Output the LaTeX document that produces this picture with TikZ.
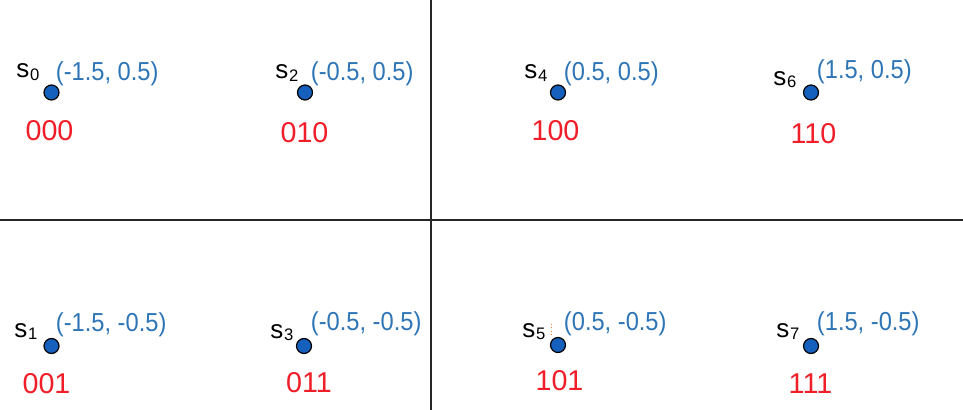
\documentclass[tikz,border=0pt]{standalone}
\usepackage{fontspec}
\setmainfont{Liberation Sans}
\usepackage{tikz}

\definecolor{coordblue}{RGB}{46,117,182}
\definecolor{dotblue}{RGB}{21,96,189}
\definecolor{bitred}{RGB}{240,30,40}
\definecolor{markorange}{RGB}{237,125,49}
\newcommand{\stname}[1]{s\kern0.6pt\raisebox{-2pt}{\fontsize{12.5}{13}\selectfont #1}}
\newcommand{\xy}[1]{\scalebox{0.91}[1]{#1}}

\begin{document}
\begin{tikzpicture}[x=0.75pt,y=-0.75pt,
        dot/.style={circle,draw=black,fill=dotblue,line width=0.9pt,minimum size=11.25pt,inner sep=0pt},
        coord/.style={coordblue,font=\fontsize{19.5}{22}\selectfont,anchor=base west,inner sep=0pt},
        bits/.style={bitred,font=\fontsize{21.5}{24}\selectfont,anchor=base,inner sep=0pt},
        sname/.style={font=\fontsize{19.5}{22}\selectfont,anchor=base west,inner sep=0pt},
        axis/.style={line width=1pt,black!85}]
        \useasboundingbox (0,0) rectangle (963,410);
        \draw[axis] (431,0) -- (431,410);
        \draw[axis] (0,220) -- (963,220);

        % upper half
        \node[dot] (s0) at (51.5,92.5) {};
        \node[sname] (n0) at (16,78) {\stname{0}};
        \node[coord] (c0) at (55.7,80.5) {\xy{(-1.5, 0.5)}};
        \node[bits] (b0) at (49.5,140) {000};

        \node[dot] (s2) at (305,92.5) {};
        \node[sname] (n2) at (275,79) {\stname{2}};
        \node[coord] (c2) at (310.7,80.5) {\xy{(-0.5, 0.5)}};
        \node[bits] (b2) at (304.5,142) {010};

        \node[dot] (s4) at (558,92.5) {};
        \node[sname] (n4) at (524,79) {\stname{4}};
        \node[coord] (c4) at (563.7,80) {\xy{(0.5, 0.5)}};
        \node[bits] (b4) at (555.5,140) {100};

        \node[dot] (s6) at (811,92.5) {};
        \node[sname] (n6) at (773,85) {\stname{6}};
        \node[coord] (c6) at (816.7,79) {\xy{(1.5, 0.5)}};
        \node[bits] (b6) at (813.5,143) {110};

        % lower half
        \node[dot] (s1) at (51.5,346) {};
        \node[sname] (n1) at (14,337) {\stname{1}};
        \node[coord] (c1) at (55.7,331.5) {\xy{(-1.5, -0.5)}};
        \node[bits] (b1) at (46.5,393) {001};

        \node[dot] (s3) at (304,346) {};
        \node[sname] (n3) at (270,338) {\stname{3}};
        \node[coord] (c3) at (310.7,330.5) {\xy{(-0.5, -0.5)}};
        \node[bits] (b3) at (309,392) {011};

        \node[dot] (s5) at (558,345) {};
        \node[sname] (n5) at (522,337) {\stname{5}};
        \node[coord] (c5) at (563.7,330.5) {\xy{(0.5, -0.5)}};
        \node[bits] (b5) at (559.5,390) {101};
        \draw[markorange,dotted,line width=0.6pt] (551,324) -- (551,337);

        \node[dot] (s7) at (811,346) {};
        \node[sname] (n7) at (776,337) {\stname{7}};
        \node[coord] (c7) at (816.7,330.5) {\xy{(1.5, -0.5)}};
        \node[bits] (b7) at (810.5,393) {111};
\end{tikzpicture}
\end{document}
